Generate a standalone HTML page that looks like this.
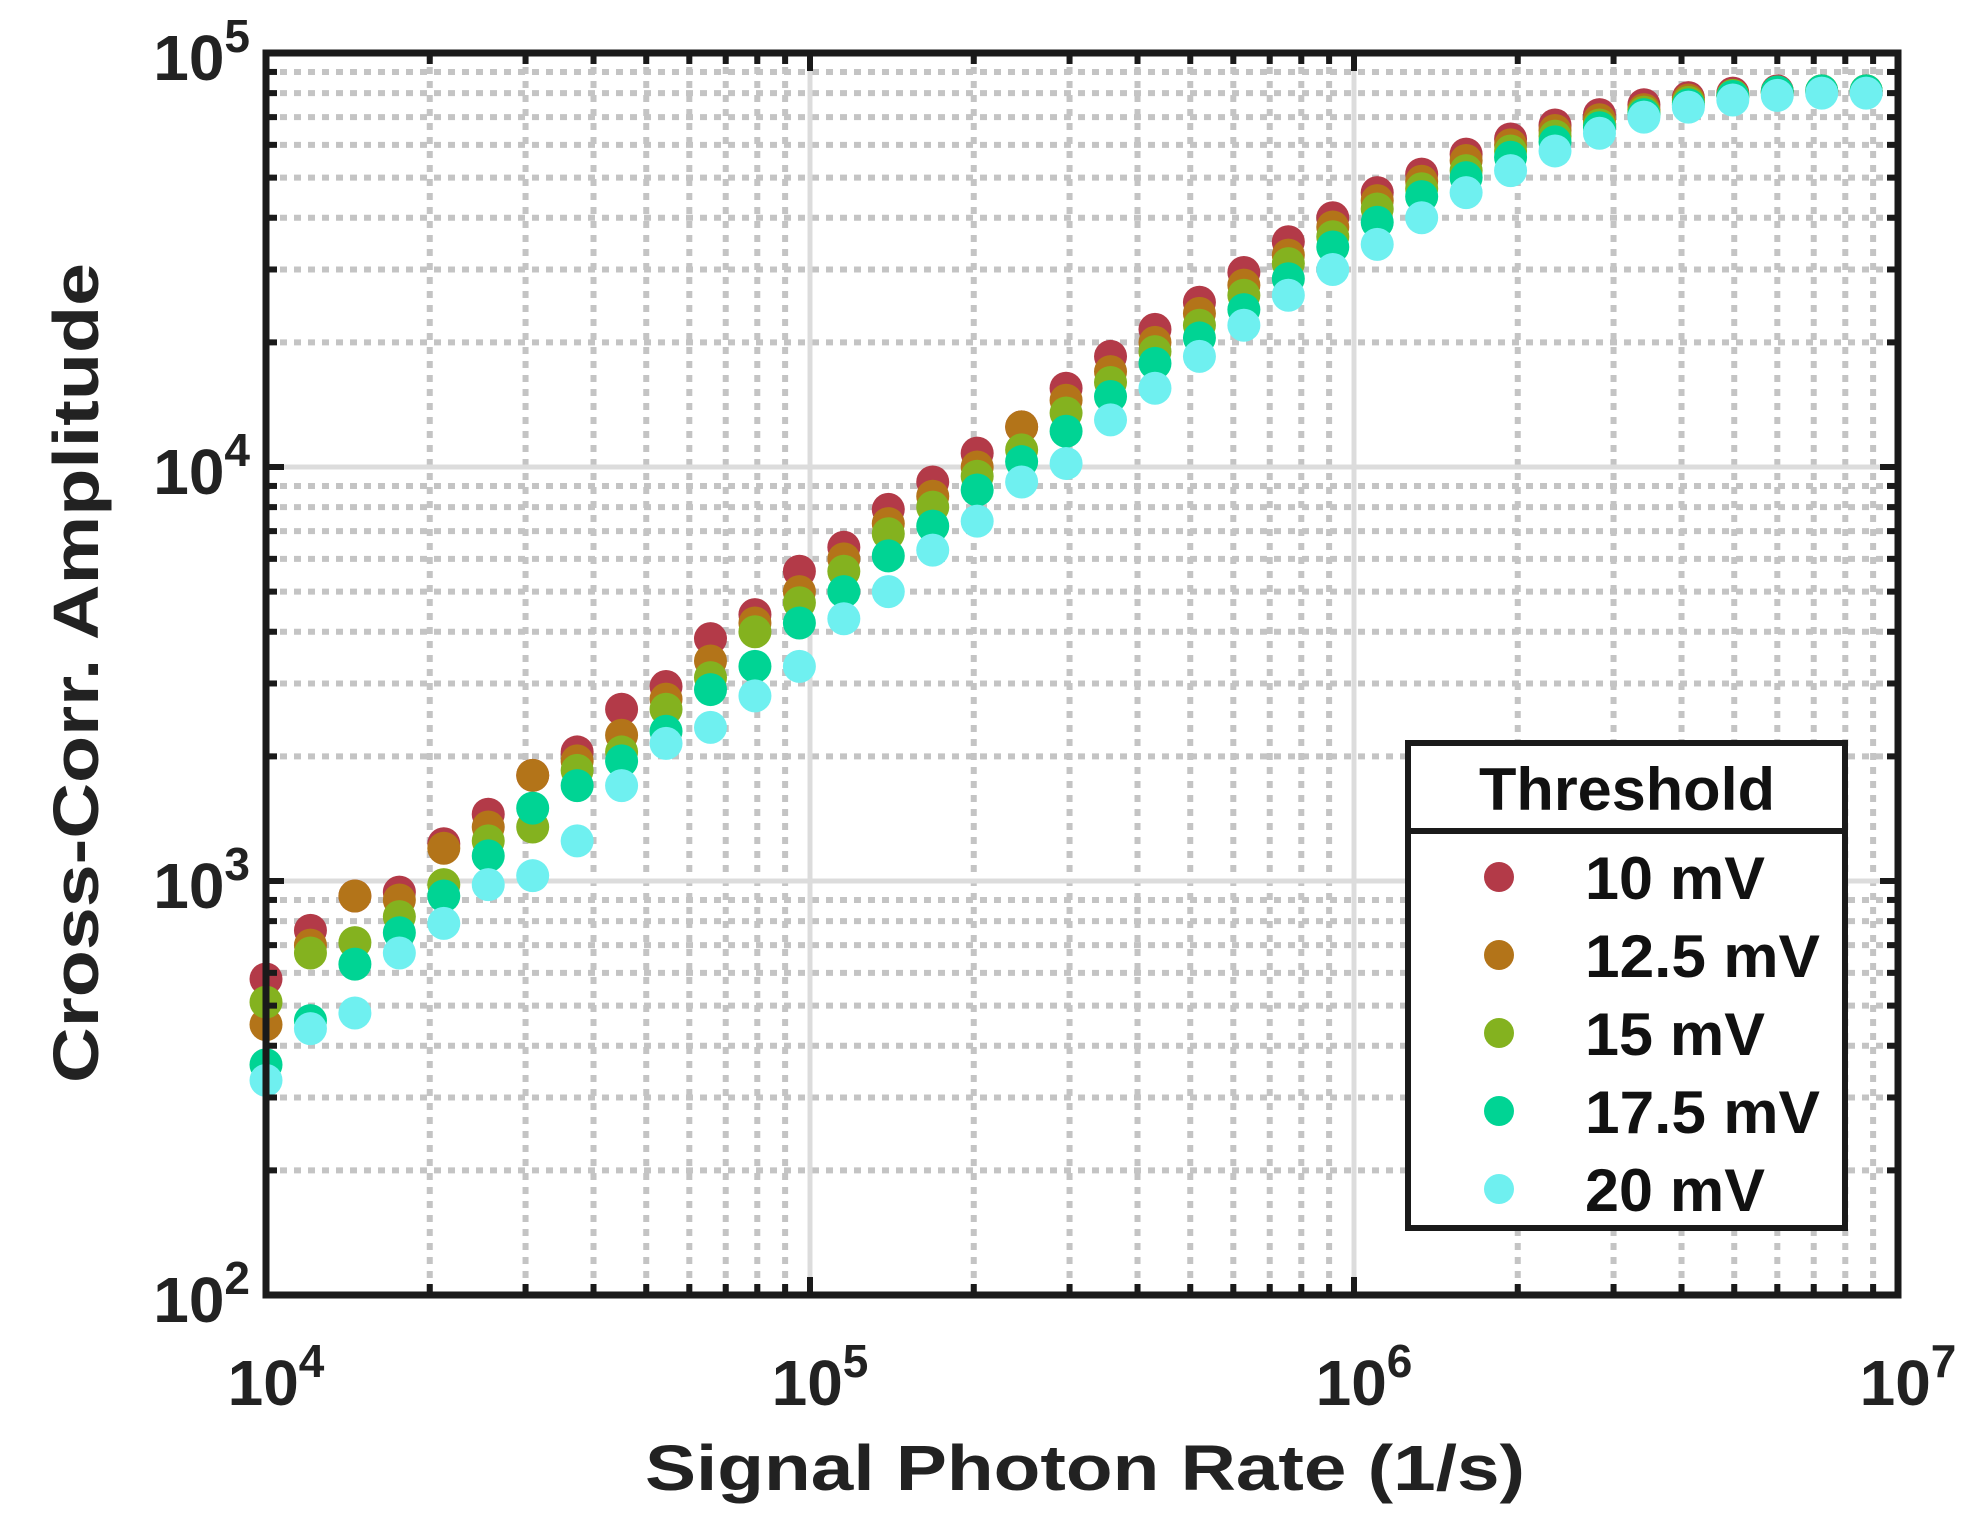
<!DOCTYPE html>
<html><head><meta charset="utf-8"><style>
html,body{margin:0;padding:0;background:#fff;}
svg{display:block;font-family:"Liberation Sans",Arial,sans-serif;}
</style></head><body>
<svg id="chart" width="1971" height="1540" viewBox="0 0 1971 1540" xmlns="http://www.w3.org/2000/svg">
<rect x="0" y="0" width="1971" height="1540" fill="#fff"/>
<g id="grid"></g>
<g id="points"></g>
<g id="axes"></g>
<g id="legend"></g>
</svg>
<script>
const seriesNames = ["10 mV","12.5 mV","15 mV","17.5 mV","20 mV"];
const seriesColors = ["#b33a48","#b37419","#84b21f","#00d494","#6ff0f0"];
const xStart = 1e4;
const xRatio = 1.207;
const s10 = [580,760,920,940,1230,1450,1800,2050,2600,2950,3850,4400,5600,6400,7900,9200,10800,12500,15500,18500,21500,25000,29500,35000,40000,46000,51000,57000,62000,67000,71000,75000,78000,80000,81000,81000,81000];
const s125 = [450,700,920,900,1200,1350,1800,1950,2250,2750,3400,4200,5000,6000,7300,8500,10000,12500,14500,17000,20000,23500,27500,32500,38000,44000,49000,55000,60000,65000,69000,73000,77000,79000,80500,81000,81000];
const s15 = [510,670,710,820,980,1250,1350,1850,2050,2600,3100,4000,4700,5600,6900,8000,9500,11000,13500,16000,19000,22000,26000,31000,36000,42000,47000,52000,58000,63000,67000,72000,76000,79000,80500,81000,81000];
const s175 = [360,460,630,750,920,1150,1500,1700,1950,2300,2900,3300,4200,5000,6100,7200,8800,10300,12200,14800,17800,20500,24000,28500,34000,39000,45000,50000,56000,61000,66000,71000,75000,78500,80500,81000,81000];
const s20 = [330,440,480,670,790,980,1030,1250,1700,2150,2350,2800,3300,4300,5000,6300,7400,9200,10200,13000,15500,18500,22000,26000,30000,34500,40000,46000,52000,58000,64000,70000,74000,77000,79000,80000,80000];
const xTickExps = [4,5,6,7];
const yTickExps = [2,3,4,5];

const NS="http://www.w3.org/2000/svg";
const L=266,R=1898,T=53,B=1295;
const xDec=(R-L)/3, yDec=(B-T)/3;
function xs(v){return L+(Math.log10(v)-4)*xDec;}
function ys(v){return B-(Math.log10(v)-2)*yDec;}
function mk(tag,at,parent){const e=document.createElementNS(NS,tag);for(const k in at)e.setAttribute(k,at[k]);parent.appendChild(e);return e;}
const grid=document.getElementById('grid'),pts=document.getElementById('points'),axes=document.getElementById('axes'),leg=document.getElementById('legend');

for(let d=4;d<7;d++)for(let m=2;m<=9;m++){const x=xs(m*Math.pow(10,d));
 const l=mk('line',{x1:x,x2:x,y1:T,y2:B,stroke:'#c4c4c4','stroke-width':6,'stroke-dasharray':'7,7'},grid);
 
 }
for(let d=2;d<5;d++)for(let m=2;m<=9;m++){const y=ys(m*Math.pow(10,d));
 const l=mk('line',{x1:L,x2:R,y1:y,y2:y,stroke:'#c4c4c4','stroke-width':6,'stroke-dasharray':'7,7'},grid);
 
 }
xTickExps.forEach(e=>{const x=xs(Math.pow(10,e));
 const l=mk('line',{x1:x,x2:x,y1:T,y2:B,stroke:'#dcdcdc','stroke-width':5},grid);
 
 });
yTickExps.forEach(e=>{const y=ys(Math.pow(10,e));
 const l=mk('line',{x1:L,x2:R,y1:y,y2:y,stroke:'#dcdcdc','stroke-width':5},grid);
 
 });

const allSeries=[s10,s125,s15,s175,s20];
allSeries.forEach((arr,si)=>{arr.forEach((v,i)=>{
 const x=xStart*Math.pow(xRatio,i);
 const c=mk('circle',{cx:xs(x),cy:ys(v),r:16.5,fill:seriesColors[si]},pts);
 
 
});});

const box=mk('rect',{x:L,y:T,width:R-L,height:B-T,fill:'none',stroke:'#1a1a1a','stroke-width':7},axes);


for(let d=4;d<7;d++)for(let m=1;m<=9;m++){const x=xs(m*Math.pow(10,d));const len=m===1?18:11;
 mk('line',{x1:x,x2:x,y1:B,y2:B-len,stroke:'#1a1a1a','stroke-width':6},axes);
 mk('line',{x1:x,x2:x,y1:T,y2:T+len,stroke:'#1a1a1a','stroke-width':6},axes);}
for(let d=2;d<5;d++)for(let m=1;m<=9;m++){const y=ys(m*Math.pow(10,d));const len=m===1?18:11;
 mk('line',{x1:L,x2:L+len,y1:y,y2:y,stroke:'#1a1a1a','stroke-width':6},axes);
 mk('line',{x1:R,x2:R-len,y1:y,y2:y,stroke:'#1a1a1a','stroke-width':6},axes);}

function powLabel(x,y,e,anchor,name){
 const t=mk('text',{x:x,y:y,'text-anchor':anchor,'font-size':64,'font-weight':'bold',fill:'#222'},axes);
 
 
 const a=document.createElementNS(NS,'tspan');a.textContent='10';t.appendChild(a);
 const b=document.createElementNS(NS,'tspan');b.setAttribute('dy','-28');b.setAttribute('font-size','46');b.textContent=String(e);t.appendChild(b);
}
xTickExps.forEach(e=>powLabel(xs(Math.pow(10,e))+10,1405,e,'middle','x-tick-label'));
yTickExps.forEach(e=>powLabel(250,ys(Math.pow(10,e))+27,e,'end','y-tick-label'));

const xt=mk('text',{x:1085,y:1490,'text-anchor':'middle','font-size':64,'font-weight':'bold',fill:'#222',textLength:880,lengthAdjust:'spacingAndGlyphs'},axes);
xt.textContent='Signal Photon Rate (1/s)';


const yt=mk('text',{x:0,y:0,'text-anchor':'middle','font-size':64,'font-weight':'bold',fill:'#222',textLength:820,lengthAdjust:'spacingAndGlyphs',transform:'translate(98,673) rotate(-90)'},axes);
yt.textContent='Cross-Corr. Amplitude';



const lb=mk('rect',{x:1408,y:743,width:437,height:485,fill:'#fff',stroke:'#1a1a1a','stroke-width':6},leg);


mk('line',{x1:1408,x2:1845,y1:831,y2:831,stroke:'#1a1a1a','stroke-width':6},leg);
const lt=mk('text',{x:1627,y:810,'text-anchor':'middle','font-size':60,'font-weight':'bold',fill:'#111',textLength:296,lengthAdjust:'spacingAndGlyphs'},leg);
lt.textContent='Threshold';


const legW=[180,235,180,235,180];
seriesNames.forEach((n,i)=>{const y=877+i*78;
 const g=mk('g',{},leg);
 
 
 mk('circle',{cx:1499,cy:y,r:15,fill:seriesColors[i]},g);
 const t=mk('text',{x:1585,y:y+22,'font-size':60,'font-weight':'bold',fill:'#111',textLength:legW[i],lengthAdjust:'spacingAndGlyphs'},g);
 t.textContent=n;});
</script>
</body></html>
